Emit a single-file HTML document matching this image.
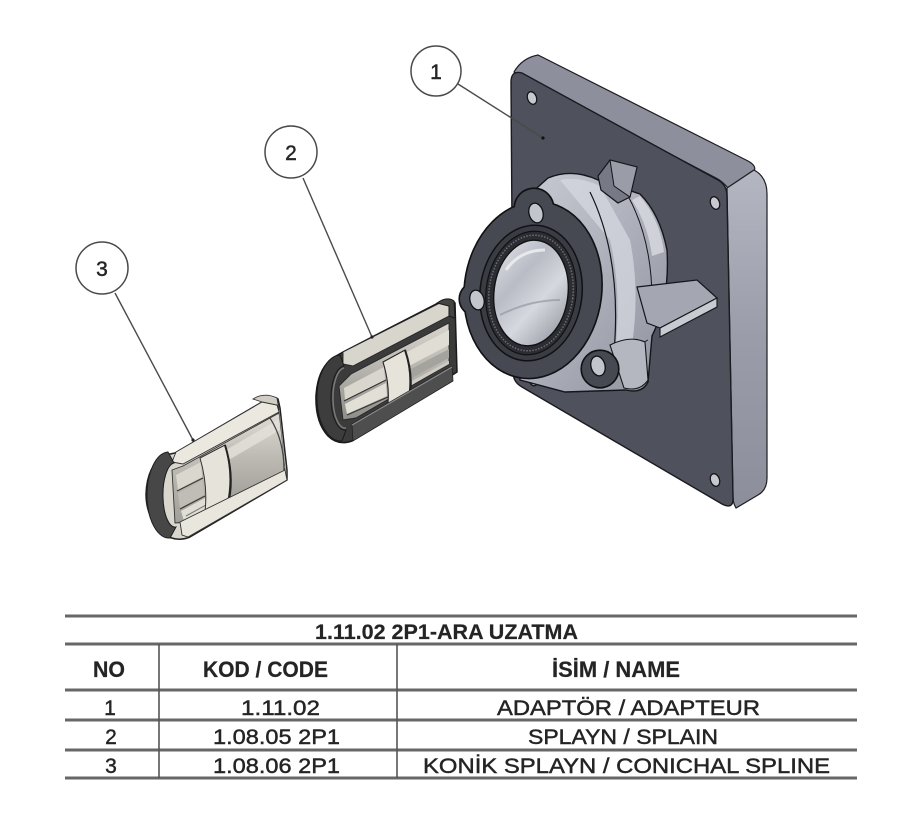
<!DOCTYPE html>
<html>
<head>
<meta charset="utf-8">
<style>
html,body{margin:0;padding:0;background:#fff;}
svg{display:block;}
text{font-family:"Liberation Sans","DejaVu Sans",sans-serif;fill:#242424;}
.r{stroke:#242424;stroke-width:0.45;}
.h{stroke:#242424;stroke-width:0.2;}
</style>
</head>
<body>
<svg width="900" height="831" viewBox="0 0 900 831" xmlns="http://www.w3.org/2000/svg">
<defs>
  <linearGradient id="plateSide" x1="0" y1="0" x2="0" y2="1">
    <stop offset="0" stop-color="#b4b6c2"/>
    <stop offset="0.5" stop-color="#9a9ca9"/>
    <stop offset="1" stop-color="#8c8e9b"/>
  </linearGradient>
  <linearGradient id="boss" x1="0" y1="0" x2="1" y2="1">
    <stop offset="0" stop-color="#c9cbd4"/>
    <stop offset="0.45" stop-color="#b0b2bd"/>
    <stop offset="1" stop-color="#8f919d"/>
  </linearGradient>
  <linearGradient id="bore" x1="0" y1="0" x2="1" y2="1">
    <stop offset="0" stop-color="#e2e4ea"/>
    <stop offset="0.35" stop-color="#b9bbc5"/>
    <stop offset="0.6" stop-color="#d6d8df"/>
    <stop offset="1" stop-color="#8d8f99"/>
  </linearGradient>
  <linearGradient id="cav3" x1="0" y1="0" x2="0" y2="1">
    <stop offset="0" stop-color="#dedbd3"/>
    <stop offset="0.5" stop-color="#bdbab3"/>
    <stop offset="1" stop-color="#a19f99"/>
  </linearGradient>
  <linearGradient id="cav2" x1="0" y1="0" x2="0" y2="1">
    <stop offset="0" stop-color="#d8d5cd"/>
    <stop offset="0.5" stop-color="#b5b3ac"/>
    <stop offset="1" stop-color="#8f8d88"/>
  </linearGradient>
</defs>

<!-- ================= PART 1 : PLATE ================= -->
<path d="M 514 72 Q 522 58 538 55 L 748 161 Q 757 166 754 171 L 728 188 Q 722 181 716 178 Z" fill="#8d8f9c" stroke="#1d1d22" stroke-width="1.2"/>
<path d="M 727 188 L 754 170 Q 767 177 767 194 L 767 478 Q 767 490 758 495 L 736 508 Q 733 503 733 497 Z" fill="url(#plateSide)" stroke="#1d1d22" stroke-width="1.2"/>
<path d="M 511 82 Q 511 70 522 73 L 718 180 Q 727 185 727 196 L 733 497 Q 734 510 722 504 L 522 387 Q 513 382 513 372 Z" fill="#4f515d" stroke="#1a1a1f" stroke-width="1.4"/>
<ellipse cx="532" cy="98" rx="4.5" ry="6.5" transform="rotate(-20 532 98)" fill="#c7c8d0" stroke="#151518" stroke-width="1.3"/>
<ellipse cx="715" cy="203" rx="4.5" ry="6.5" transform="rotate(-20 715 203)" fill="#c7c8d0" stroke="#151518" stroke-width="1.3"/>
<ellipse cx="715" cy="480" rx="4.5" ry="6.5" transform="rotate(-20 715 480)" fill="#c7c8d0" stroke="#151518" stroke-width="1.3"/>
<ellipse cx="533" cy="380" rx="4" ry="6" transform="rotate(-20 533 380)" fill="#c7c8d0" stroke="#151518" stroke-width="1.3"/>

<!-- ================= BOSS ================= -->
<path d="M 518 205 L 548 178 Q 572 168 598 180 L 640 194 Q 660 214 667 250 Q 670 300 652 336 L 648 382 Q 642 394 626 390 L 565 392 L 520 380 Z" fill="url(#boss)" stroke="#15151a" stroke-width="1.4"/>
<path d="M 560 180 Q 580 176 600 186 L 630 240 Q 640 290 632 345 L 615 352 Q 622 290 610 240 Z" fill="#d6d8e0" opacity="0.75"/>
<path d="M 640 196 Q 660 220 664 252 L 652 256 Q 648 225 632 200 Z" fill="#d9dbe2" opacity="0.8"/>
<path d="M 590 192 Q 622 258 614 352" fill="none" stroke="#15151a" stroke-width="1.2"/>
<path d="M 628 196 Q 652 240 652 300" fill="none" stroke="#15151a" stroke-width="1"/>
<path d="M 612 352 Q 630 350 648 340" fill="none" stroke="#15151a" stroke-width="1"/>
<path d="M 610 345 Q 630 335 645 342 L 648 380 Q 640 392 624 388 Z" fill="#b4b6c0" stroke="#15151a" stroke-width="1.1"/>

<polygon points="598,176 610,160 637,167 630,197 618,203 601,190" fill="#777986" stroke="#15151a" stroke-width="1.2"/>
<polygon points="610,160 637,167 630,197 614,186" fill="#9a9ca8" stroke="#15151a" stroke-width="1"/>
<polygon points="637,287 697,280 717,298 660,328 647,323" fill="#a4a6b2" stroke="#15151a" stroke-width="1.2"/>
<polygon points="660,328 717,298 717,307 660,337" fill="#c9cbd3" stroke="#15151a" stroke-width="1.1"/>

<!-- ================= FLANGE ================= -->
<g stroke="#111114" stroke-width="3.2" fill="#111114">
  <ellipse cx="533" cy="290" rx="68" ry="88" transform="rotate(7 533 290)"/>
  <circle cx="534" cy="208" r="19"/>
  <circle cx="476" cy="299" r="16"/>
  <circle cx="600" cy="369" r="18"/>
</g>
<g fill="#464852">
  <ellipse cx="533" cy="290" rx="68" ry="88" transform="rotate(7 533 290)"/>
  <circle cx="534" cy="208" r="19"/>
  <circle cx="476" cy="299" r="16"/>
  <circle cx="600" cy="369" r="18"/>
</g>
<ellipse cx="531" cy="293" rx="51" ry="68" transform="rotate(7 531 293)" fill="#3a3c44" stroke="#111114" stroke-width="1.5"/>
<ellipse cx="531" cy="293" rx="45" ry="62" transform="rotate(7 531 293)" fill="#2c2d33" stroke="#111114" stroke-width="1.2"/>
<ellipse cx="531" cy="293" rx="42" ry="58" transform="rotate(7 531 293)" fill="none" stroke="#6a6c76" stroke-width="1.5" stroke-dasharray="1.5 1.5"/>
<ellipse cx="531" cy="293" rx="37" ry="53" transform="rotate(7 531 293)" fill="url(#bore)" stroke="#111114" stroke-width="1.4"/>
<path d="M 506 270 Q 520 250 545 250" fill="none" stroke="#f0f1f4" stroke-width="3" opacity="0.8"/>
<path d="M 500 315 Q 530 300 560 300" fill="none" stroke="#9698a2" stroke-width="2" opacity="0.7"/>
<ellipse cx="536" cy="213" rx="7" ry="10" transform="rotate(-15 536 213)" fill="#c3c5cd" stroke="#111114" stroke-width="1.3"/>
<ellipse cx="477" cy="300" rx="7" ry="10" transform="rotate(-15 477 300)" fill="#c3c5cd" stroke="#111114" stroke-width="1.3"/>
<ellipse cx="598" cy="366" rx="7" ry="10" transform="rotate(-15 598 366)" fill="#c3c5cd" stroke="#111114" stroke-width="1.3"/>

<!-- ================= PART 2 ================= -->
<path d="M 343 352 L 438 303 Q 450 296 455 303 L 457 372 L 352 441 Q 338 446 328 436 Q 315 422 316 395 Q 318 366 336 356 Z" fill="#3b3b3b" stroke="#1a1a1a" stroke-width="1.5"/>
<polygon points="343,352 440,303 449,306 449,316 353,366 343,364" fill="#d8d5cc" stroke="#262626" stroke-width="0.9"/>
<polygon points="351,374 449,323 449,364 356,418 343,420 339,386" fill="url(#cav2)" stroke="#262626" stroke-width="0.9"/>
<polygon points="407,352 449,330 449,345 409,366" fill="#e0ddd5"/>
<polygon points="409,370 449,349 449,358 410,379" fill="#a5a39d"/>
<polygon points="410,382 449,361 449,364 410,386" fill="#cfccc5"/>
<polygon points="344,388 384,367 385,380 345,400" fill="#d9d6ce"/>
<line x1="344" y1="401" x2="386" y2="380" stroke="#333" stroke-width="1.2"/>
<polygon points="345,404 386,383 387,396 347,414" fill="#e2dfd7"/>
<line x1="347" y1="415" x2="388" y2="397" stroke="#333" stroke-width="1.2"/>
<path d="M 383 362 L 405 350 Q 413 376 408 401 L 387 412 Q 391 388 383 362 Z" fill="#e6e3db" stroke="#222" stroke-width="1.1"/>
<path d="M 405 350 Q 414 376 409 401" fill="none" stroke="#222" stroke-width="2"/>
<polygon points="352,424 452,366 453,381 353,441" fill="#4e4e4e" stroke="#222" stroke-width="0.8"/>
<line x1="352" y1="425" x2="452" y2="367" stroke="#8a8a8a" stroke-width="1.2"/>
<path d="M 340 355 A 24 43 0 0 0 342 441 L 346 430 A 14 32 0 0 1 344 366 Z" fill="#3d3d3d" stroke="#1a1a1a" stroke-width="1"/>
<path d="M 344 368 A 12 30 0 0 0 346 428" fill="none" stroke="#7a7a7a" stroke-width="1.5"/>
<path d="M 437 303 Q 447 296 454 301 L 455 318 L 449 316 L 449 306 Z" fill="#444" stroke="#1a1a1a" stroke-width="1"/>

<!-- ================= PART 3 ================= -->
<path d="M 175 453 L 262 402 Q 270 394 278 399 L 280 408 L 287 470 L 287 480 L 190 537 Q 175 543 163 533 Q 146 518 146 494 Q 147 465 165 455 Z" fill="#d9d6cd" stroke="#222" stroke-width="1.5"/>
<polygon points="183,466 279,413 285,470 190,522 175,523 172,470" fill="url(#cav3)" stroke="#333" stroke-width="0.9"/>
<polygon points="226,446 279,415 285,468 229,500" fill="url(#cav3)"/>
<polygon points="226,450 279,419 280,430 227,461" fill="#e4e1d9" opacity="0.8"/>
<path d="M 270 418 Q 284 440 284 470" fill="none" stroke="#444" stroke-width="1.2"/>
<polygon points="176,475 201,462 202,477 178,490" fill="#dad7cf"/>
<line x1="177" y1="491" x2="203" y2="478" stroke="#3a3a3a" stroke-width="1.2"/>
<polygon points="178,493 203,480 204,495 180,508" fill="#c0bdb6"/>
<line x1="180" y1="509" x2="205" y2="496" stroke="#3a3a3a" stroke-width="1.2"/>
<polygon points="181,511 205,498 206,509 184,521" fill="#e0ddd4"/>
<line x1="186" y1="516" x2="206" y2="505" stroke="#777" stroke-width="1"/>
<path d="M 200 458 L 225 445 Q 233 474 228 500 L 205 512 Q 208 485 200 458 Z" fill="#e6e3db" stroke="#333" stroke-width="1"/>
<path d="M 225 445 Q 234 474 229 500" fill="none" stroke="#222" stroke-width="2"/>
<polygon points="176,452 262,402 277,405 279,412 183,464 172,462" fill="#ebe8df" stroke="#333" stroke-width="0.9"/>
<path d="M 253 399 Q 264 392 277 398 L 279 410 L 277 405 L 262 402 Z" fill="#d0cdc4" stroke="#333" stroke-width="0.9"/>
<polygon points="180,522 285,470 287,480 188,537 182,535" fill="#e9e6dd" stroke="#333" stroke-width="0.9"/>
<path d="M 168 452 A 22 43 0 0 0 170 538 L 176 527 A 12 32 0 0 1 174 463 Z" fill="#474747" stroke="#1e1e1e" stroke-width="1"/>

<!-- ================= LEADERS & BALLOONS ================= -->
<g stroke="#4a4a4a" stroke-width="1.4" fill="none">
  <line x1="458" y1="84" x2="543" y2="138"/>
  <line x1="303" y1="178" x2="372" y2="337"/>
  <line x1="115" y1="293" x2="193" y2="440"/>
</g>
<circle cx="543" cy="138" r="1.6" fill="#111"/>
<circle cx="372" cy="337" r="1.6" fill="#222"/>
<circle cx="193" cy="440" r="1.6" fill="#222"/>

<g fill="#fff" stroke="#4a4a4a" stroke-width="1.5">
  <circle cx="436" cy="71" r="25"/>
  <circle cx="291" cy="152" r="26"/>
  <circle cx="102" cy="268" r="26"/>
</g>
<text x="436" y="79" font-size="21" text-anchor="middle" fill="#333" class="r">1</text>
<text x="291" y="160" font-size="21" text-anchor="middle" fill="#333" class="r">2</text>
<text x="102" y="276" font-size="21" text-anchor="middle" fill="#333" class="r">3</text>

<!-- ================= TABLE ================= -->
<g stroke="#676767" stroke-width="3">
  <line x1="65" y1="616" x2="857" y2="616"/>
  <line x1="65" y1="644" x2="857" y2="644"/>
  <line x1="65" y1="690" x2="857" y2="690"/>
  <line x1="65" y1="720" x2="857" y2="720"/>
  <line x1="65" y1="750" x2="857" y2="750"/>
  <line x1="65" y1="778" x2="857" y2="778"/>
</g>
<g stroke="#555" stroke-width="1.6">
  <line x1="159" y1="644" x2="159" y2="778"/>
  <line x1="397" y1="644" x2="397" y2="778"/>
</g>

<text x="315" y="639" font-size="21" font-weight="bold" class="h" textLength="263" lengthAdjust="spacingAndGlyphs">1.11.02 2P1-ARA UZATMA</text>

<text x="93" y="677" font-size="22" font-weight="bold" class="h" textLength="32" lengthAdjust="spacingAndGlyphs">NO</text>
<text x="203" y="677" font-size="22" font-weight="bold" class="h" textLength="125" lengthAdjust="spacingAndGlyphs">KOD / CODE</text>
<text x="552" y="677" font-size="22" font-weight="bold" class="h" textLength="128" lengthAdjust="spacingAndGlyphs">İSİM / NAME</text>

<text x="110" y="715" font-size="21" text-anchor="middle" class="r">1</text>
<text x="241" y="715" font-size="21" class="r" textLength="79" lengthAdjust="spacingAndGlyphs">1.11.02</text>
<text x="497" y="715" font-size="21" class="r" textLength="263" lengthAdjust="spacingAndGlyphs">ADAPTÖR / ADAPTEUR</text>

<text x="111" y="744" font-size="21" text-anchor="middle" class="r">2</text>
<text x="213" y="744" font-size="21" class="r" textLength="127" lengthAdjust="spacingAndGlyphs">1.08.05 2P1</text>
<text x="528" y="744" font-size="21" class="r" textLength="190" lengthAdjust="spacingAndGlyphs">SPLAYN / SPLAIN</text>

<text x="111" y="773" font-size="21" text-anchor="middle" class="r">3</text>
<text x="213" y="773" font-size="21" class="r" textLength="127" lengthAdjust="spacingAndGlyphs">1.08.06 2P1</text>
<text x="423" y="773" font-size="21" class="r" textLength="407" lengthAdjust="spacingAndGlyphs">KONİK SPLAYN / CONICHAL SPLINE</text>
</svg>
</body>
</html>
